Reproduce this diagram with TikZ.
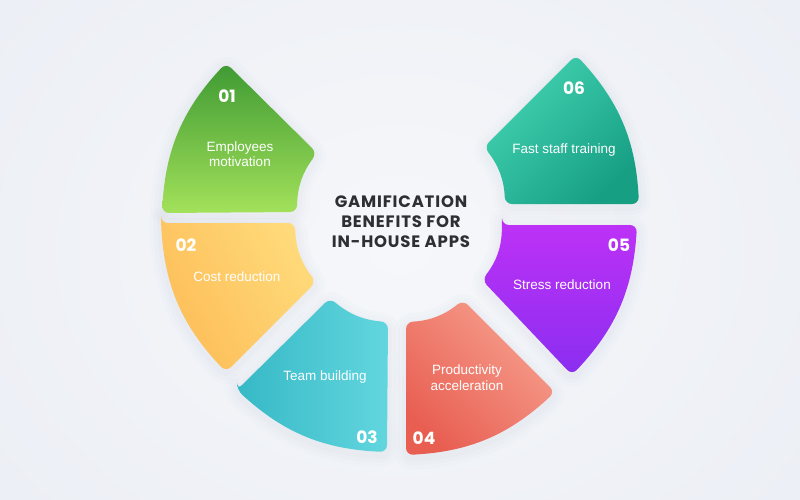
\documentclass[tikz,border=0pt]{standalone}
\usepackage{fontspec}
\setmainfont{Liberation Sans}
\newfontfamily\pop{Poppins}
\newfontfamily\popt{Poppins}[LetterSpace=5]
\definecolor{bgin}{HTML}{F6F7FA}
\definecolor{bgout}{HTML}{ECEFF5}
\definecolor{shadowc}{HTML}{9AA3B8}
\definecolor{titlegray}{HTML}{2E2F33}
\definecolor{gA}{HTML}{3E9A33}
\definecolor{gB}{HTML}{A3E15A}
\definecolor{oA}{HTML}{FDBD58}
\definecolor{oB}{HTML}{FFDA7A}
\definecolor{cA}{HTML}{36B9C6}
\definecolor{cB}{HTML}{62D6DE}
\definecolor{rA}{HTML}{E85F52}
\definecolor{rB}{HTML}{F7A08F}
\definecolor{pA}{HTML}{BD31F6}
\definecolor{pB}{HTML}{8A2EF0}
\definecolor{tA}{HTML}{43D3B2}
\definecolor{tB}{HTML}{179F84}
\newcommand\mkseg[4]{%
  \foreach \w/\o in {24/0.022,16/0.028,8/0.035}{%
    \draw[shadowc, line width=\w pt, opacity=\o, line join=round, rounded corners=7pt, yshift=-3pt] #1;}
  \shade[rounded corners=7pt, top color=#2, bottom color=#3, shading angle=#4] #1;
}
\begin{document}
\begin{tikzpicture}[x=1pt,y=-1pt,
  lbl/.style={text=white, font=\fontsize{13.5}{15.5}\selectfont, align=center, inner sep=0pt},
  num/.style={text=white, font=\pop\bfseries\fontsize{17}{17}\selectfont, inner sep=0pt},
  ttl/.style={text=titlegray, font=\popt\bfseries\fontsize{16.5}{20}\selectfont, align=center, inner sep=0pt}]
\useasboundingbox (0,0) rectangle (800,499);
\shade[inner color=bgin, outer color=bgout] (-100,-150) rectangle (900,649);
% segments
\mkseg{(162,213) to[bend left=20] (226,63) -- (317,153) to[bend right=18] (297,212) -- cycle}{gA}{gB}{0}
\mkseg{(161,223) -- (295,223) to[bend right=18] (316,282) -- (226,372) to[bend left=20] cycle}{oB}{oA}{-60}
\mkseg{(237,390) -- (330,298) to[bend right=18] (388,322) -- (387,452) to[bend left=20] cycle}{cB}{cA}{-90}
\mkseg{(406,322) to[bend right=18] (463,300) -- (555,392) to[bend left=20] (406,455) -- cycle}{rB}{rA}{-45}
\mkseg{(502,225) -- (637,225) to[bend left=20] (572,375) -- (482,280) to[bend right=18] cycle}{pA}{pB}{0}
\mkseg{(576,55) to[bend left=20] (639,204) -- (505,204) to[bend right=18] (484,147) -- cycle}{tA}{tB}{45}
% texts
\node[num] (n1) at (227,96) {01};
\node[lbl] (t1) at (240,154) {Employees\\motivation};
\node[num] (n2) at (186,245) {02};
\node[lbl] (t2) at (237,277) {Cost reduction};
\node[lbl] (t3) at (325,377) {Team building};
\node[num] (n3) at (367,437) {03};
\node[lbl] (t4) at (467,377.5) {Productivity\\acceleration};
\node[num] (n4) at (424,438) {04};
\node[num] (n5) at (619,245) {05};
\node[lbl] (t5) at (562,285) {Stress reduction};
\node[num] (n6) at (574,88) {06};
\node[lbl] (t6) at (564,150) {Fast staff training};
\node[ttl] (title) at (401,222) {GAMIFICATION\\BENEFITS FOR\\IN-HOUSE APPS};
\end{tikzpicture}
\end{document}
